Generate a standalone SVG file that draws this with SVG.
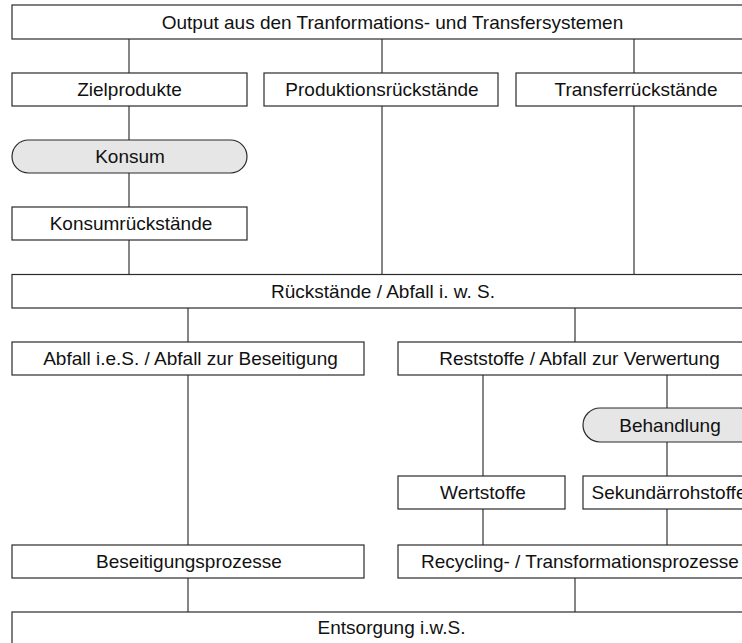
<svg xmlns="http://www.w3.org/2000/svg" width="742" height="643" viewBox="0 0 742 643">
  <style>
    .box { fill: #ffffff; stroke: #2a2a2a; stroke-width: 1.2; }
    .pill { fill: #e6e6e6; stroke: #2a2a2a; stroke-width: 1.2; }
    .lbl { font-family: "Liberation Sans", Arial, sans-serif; font-size: 19px; fill: #111111; text-anchor: middle; }
    .conn line { stroke: #222222; stroke-width: 1.1; }
  </style>
  <rect x="0" y="0" width="742" height="643" fill="#ffffff"/>

  <!-- connectors -->
  <g id="connectors" class="conn">
    <line x1="129" y1="39" x2="129" y2="73"/>
    <line x1="382" y1="39" x2="382" y2="73"/>
    <line x1="634" y1="39" x2="634" y2="73"/>
    <line x1="129" y1="106" x2="129" y2="140"/>
    <line x1="129" y1="173" x2="129" y2="207"/>
    <line x1="129" y1="240" x2="129" y2="274.5"/>
    <line x1="382" y1="106" x2="382" y2="274.5"/>
    <line x1="634" y1="106" x2="634" y2="274.5"/>
    <line x1="188" y1="308" x2="188" y2="342"/>
    <line x1="575" y1="308" x2="575" y2="342"/>
    <line x1="188" y1="375" x2="188" y2="545"/>
    <line x1="483" y1="375" x2="483" y2="476"/>
    <line x1="667" y1="375" x2="667" y2="408"/>
    <line x1="667" y1="442" x2="667" y2="476"/>
    <line x1="483" y1="509" x2="483" y2="545"/>
    <line x1="667" y1="509" x2="667" y2="545"/>
    <line x1="188" y1="578" x2="188" y2="612"/>
    <line x1="575" y1="578" x2="575" y2="612"/>
  </g>

  <g id="output">
    <rect class="box" x="12" y="5" width="770" height="34"/>
    <text class="lbl" x="392.5" y="28.5">Output aus den Tranformations- und Transfersystemen</text>
  </g>

  <g id="zielprodukte">
    <rect class="box" x="12" y="73" width="235" height="33"/>
    <text class="lbl" x="129.5" y="96">Zielprodukte</text>
  </g>
  <g id="produktionsrueckstaende">
    <rect class="box" x="264" y="73" width="234" height="33"/>
    <text class="lbl" x="382" y="96">Produktionsrückstände</text>
  </g>
  <g id="transferrueckstaende">
    <rect class="box" x="516" y="73" width="240" height="33"/>
    <text class="lbl" x="636" y="96">Transferrückstände</text>
  </g>

  <g id="konsum">
    <rect class="pill" x="12" y="140" width="235" height="33" rx="16.5" ry="16.5"/>
    <text class="lbl" x="130" y="163">Konsum</text>
  </g>
  <g id="konsumrueckstaende">
    <rect class="box" x="12" y="207" width="235" height="33"/>
    <text class="lbl" x="131" y="230">Konsumrückstände</text>
  </g>

  <g id="abfall-iws">
    <rect class="box" x="12" y="274.5" width="770" height="33.5"/>
    <text class="lbl" x="383" y="297.5">Rückstände / Abfall i. w. S.</text>
  </g>

  <g id="abfall-ies">
    <rect class="box" x="12" y="342" width="352" height="33"/>
    <text class="lbl" x="190.5" y="365">Abfall i.e.S. / Abfall zur Beseitigung</text>
  </g>
  <g id="reststoffe">
    <rect class="box" x="398" y="342" width="364" height="33"/>
    <text class="lbl" x="579.5" y="365">Reststoffe / Abfall zur Verwertung</text>
  </g>

  <g id="behandlung">
    <rect class="pill" x="583" y="408" width="174" height="34" rx="17" ry="17"/>
    <text class="lbl" x="670" y="431.5">Behandlung</text>
  </g>

  <g id="wertstoffe">
    <rect class="box" x="398" y="476" width="167" height="33"/>
    <text class="lbl" x="483" y="499">Wertstoffe</text>
  </g>
  <g id="sekundaerrohstoffe">
    <rect class="box" x="583" y="476" width="172" height="33"/>
    <text class="lbl" x="669" y="499">Sekundärrohstoffe</text>
  </g>

  <g id="beseitigungsprozesse">
    <rect class="box" x="12" y="545" width="352" height="33"/>
    <text class="lbl" x="189" y="568">Beseitigungsprozesse</text>
  </g>
  <g id="recyclingprozesse">
    <rect class="box" x="398" y="545" width="364" height="33"/>
    <text class="lbl" x="580" y="568">Recycling- / Transformationsprozesse</text>
  </g>

  <g id="entsorgung">
    <rect class="box" x="12" y="612" width="770" height="40"/>
    <text class="lbl" x="391.5" y="634">Entsorgung i.w.S.</text>
  </g>
</svg>
